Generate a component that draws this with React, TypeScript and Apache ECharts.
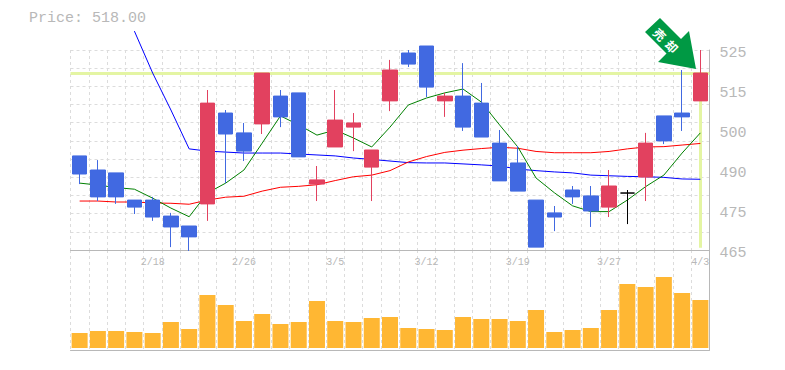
import React, { useEffect, useRef } from "react";
import * as echarts from "echarts";

const PRICE_TEXT = "Price: 518.00";
const LAST_CLOSE = 517.8;
const DATES = ["2/12","2/13","2/14","2/15","2/18","2/19","2/20","2/21","2/22","2/26","2/27","2/28","3/1","3/4","3/5","3/6","3/7","3/8","3/11","3/12","3/13","3/14","3/15","3/18","3/19","3/20","3/22","3/25","3/26","3/27","3/28","3/29","4/1","4/2","4/3"];
const OPENS = [491.9,487.5,486.6,478.1,478.1,473.1,470,476.9,505.3,499.1,501.9,510.6,511.6,483.1,494.7,500.9,488.4,509.1,524.06,526.25,509.1,510.6,508.4,495.9,489.7,478.1,474.1,481.25,479.4,475.9,480.3,485.3,504.4,505.3,509.1];
const CLOSES = [486.25,479.1,479.1,475.9,472.8,469.7,466.6,508.4,498.75,493.4,517.8,504.1,491.6,484.4,503.1,502.2,493.75,518.75,520.6,513.4,510.6,500.9,497.8,484.1,480.9,463.4,472.8,479.1,474.7,482.5,480.3,495.9,496.6,504.1,517.8];
const LOWS = [483.1,477.8,476.9,473.75,471.6,463.4,462.2,471.6,483.4,490.3,498.75,500.9,491.6,477.8,494.7,493.4,477.8,505.9,519.7,510.3,504.1,499.7,497.8,484.1,480.9,463.4,468.4,476.9,469.7,472.8,470.6,477.8,495.6,499.7,509.1];
const HIGHS = [491.9,490.6,486.6,478.1,479.1,474.1,470,512.5,506.25,502.2,517.8,512.5,511.6,488.75,512.5,505.3,493.75,521.9,525,526.25,511.6,520.9,514.7,500,495,478.1,476.25,482.5,482.5,487.5,481.25,499.1,504.4,518.75,525];
const MA_BLUE = [null,null,null,530.9,517.8,506.25,494.1,493.4,493.1,492.8,492.8,492.8,492.5,492.2,491.9,491.25,490.8,490.3,489.8,489.7,489.7,489.4,489.1,488.75,487.8,487.3,486.9,486.6,485.9,485.7,485.5,485.4,485.2,484.7,484.6];
const MA_RED = [477.8,477.8,477.5,477.5,477.2,477.1,476.8,478.1,479,479.3,480.9,482.1,482.4,482.9,484.2,485.4,485.9,487.3,490,491.7,493,493.7,494.2,494.6,494.3,493.3,492.9,492.9,492.9,493.3,494.1,494.7,494.8,495.3,495.8];
const MA_GREEN = [483.4,482.8,482,481.5,478.7,475.6,472.9,480.3,483.4,487.5,495.9,504.4,501.6,498.4,500,497.5,494.7,500.9,507.8,510,511.6,512.8,508.75,501.6,494.7,485,480.4,476.3,474.5,474.5,478.1,482.3,485.9,492.8,499.1];
const VOLUMES = [15,17,17,16,15,26,19,53,43,27,34,24,26,47,27,26,30,31,20,19,18,31,29,29,27,38,16,18,20,38,64,61,71,55,48];
const TICK_VALUES = [462.5,475,487.5,500,512.5,525];
const TICK_LABELS = ["465","475","490","500","515","525"];
const DOJI_INDEX = 30;
const ARROW_CHARS = ["売", "却"];

const GRAY = "#b8b8b8";
const GRID_LINE = "#dcdcdc";
const MONO = "'Liberation Mono', monospace";
const RED = "#E2415F";
const BLUE = "#4169E1";

export default function App() {
  const ref = useRef<HTMLDivElement>(null);
  useEffect(() => {
    document.body.style.margin = "0";
    const chart = echarts.init(ref.current!, null, { renderer: "svg" });
    const dashed = { show: true, lineStyle: { color: GRID_LINE, type: [3, 3], width: 1 } };
    const solid = { show: true, onZero: false, lineStyle: { color: GRAY, width: 1 } };
    const candles = DATES.map((_, i) => {
      const value = [OPENS[i], CLOSES[i], LOWS[i], HIGHS[i]];
      if (i !== DOJI_INDEX) return value;
      return {
        value,
        itemStyle: { color: "#000", color0: "#000", borderColor: "#000", borderColor0: "#000", borderColorDoji: "#000" },
      };
    });
    const line = (name: string, data: (number | null)[], color: string, extra: object = {}) => ({
      name, type: "line", data, xAxisIndex: 0, yAxisIndex: 0, symbol: "none", clip: false, z: 2,
      lineStyle: { color, width: 1 }, ...extra,
    });
    const arrowText = (text: string, x: number, y: number) => ({
      type: "text", z: 21, x, y, rotation: -Math.PI / 4,
      style: { text, fill: "#fff", fontFamily: "'Noto Sans CJK JP'", fontSize: 12, fontWeight: "bold", align: "center", verticalAlign: "middle" },
    });
    chart.setOption({
      animation: false,
      title: {
        text: PRICE_TEXT, left: 29, top: 11, padding: 0,
        textStyle: { color: GRAY, fontFamily: MONO, fontSize: 15, fontWeight: "normal" },
      },
      grid: [
        { left: 70.5, width: 639, top: 50, height: 200 },
        { left: 70.5, width: 639, top: 250, height: 100 },
      ],
      xAxis: [
        {
          type: "category", gridIndex: 0, data: DATES, boundaryGap: true,
          axisLine: solid, axisTick: { show: false },
          axisLabel: {
            interval: (i: number) => i % 5 === 4, color: GRAY, fontFamily: MONO, fontSize: 10, margin: 7,
            hideOverlap: false,
          },
          splitLine: { ...dashed, interval: 0 },
        },
        {
          type: "category", gridIndex: 1, data: DATES, boundaryGap: true,
          axisLine: solid, axisTick: { show: false }, axisLabel: { show: false },
          splitLine: { ...dashed, interval: 0 },
        },
      ],
      yAxis: [
        {
          type: "value", gridIndex: 0, position: "right", min: 462.5, max: 525, interval: 12.5, scale: true,
          axisLine: solid, axisTick: { show: false }, splitLine: { show: false },
          axisLabel: {
            color: GRAY, fontFamily: MONO, fontSize: 15, margin: 10, verticalAlign: "top", lineHeight: 6,
            formatter: (v: number) => TICK_LABELS[TICK_VALUES.indexOf(v)] ?? "",
          },
        },
        {
          type: "value", gridIndex: 0, position: "right", min: 0, max: 11, interval: 1,
          axisLine: { show: false }, axisTick: { show: false }, axisLabel: { show: false },
          splitLine: dashed,
        },
        {
          type: "value", gridIndex: 1, position: "right", min: -2, max: 98,
          axisLine: solid, axisTick: { show: false }, axisLabel: { show: false }, splitLine: { show: false },
        },
      ],
      series: [
        line("long", MA_BLUE, "#0000ff"),
        line("mid", MA_RED, "#ff0000"),
        line("short", MA_GREEN, "#008000", {
          markLine: {
            silent: true, symbol: ["none", "none"], z: 1, animation: false,
            label: { show: false },
            lineStyle: { color: "#E4F5A3", width: 3, type: "solid" },
            data: [
              { yAxis: LAST_CLOSE },
              [{ coord: [DATES[34], LAST_CLOSE] }, { coord: [DATES[34], 463.2] }],
            ],
          },
        }),
        {
          name: "candle", type: "candlestick", data: candles, xAxisIndex: 0, yAxisIndex: 0,
          barWidth: 15, clip: false, z: 3,
          itemStyle: { color: RED, color0: BLUE, borderColor: RED, borderColor0: BLUE, borderWidth: 1 },
        },
        {
          name: "volume", type: "bar", data: VOLUMES, xAxisIndex: 1, yAxisIndex: 2,
          barWidth: 16, z: 2, itemStyle: { color: "#FFB733" },
        },
      ],
      graphic: [
        {
          type: "polygon", z: 20,
          shape: { points: [[660,18],[645,32],[666.5,53.5],[658,62],[696,69],[689,31],[681,39]] },
          style: { fill: "#009944" },
        },
        arrowText(ARROW_CHARS[0], 660, 34),
        arrowText(ARROW_CHARS[1], 672, 46),
      ],
    });
    return () => chart.dispose();
  }, []);
  return <div ref={ref} style={{ width: 785, height: 370 }} />;
}
